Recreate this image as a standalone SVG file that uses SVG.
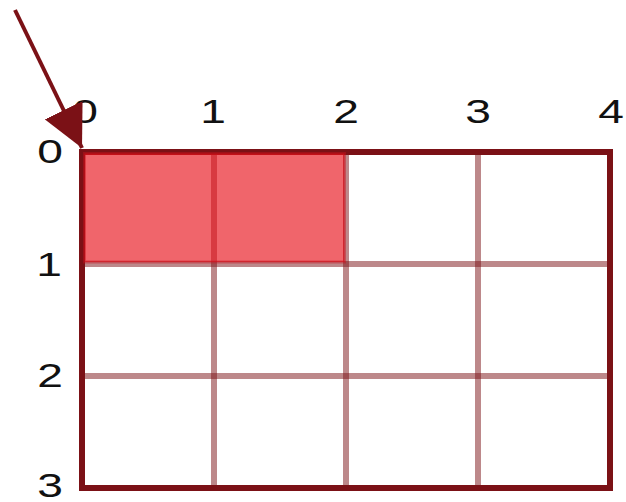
<svg xmlns="http://www.w3.org/2000/svg" width="626" height="502" viewBox="0 0 626 502">
  <style>
    .grid { stroke: #7b1116; stroke-opacity: 0.5; stroke-width: 6; fill: none; }
    .border { stroke: #7b1116; stroke-width: 6; fill: none; }
    .hl { fill: #e80e18; fill-opacity: 0.64; stroke: #c8101a; stroke-opacity: 0.45; stroke-width: 3; }
    .lbl { font-family: "Liberation Sans", Arial, sans-serif; font-size: 33px; fill: #111; text-anchor: middle; }
    .arrow { stroke: #7b1116; stroke-width: 4; fill: none; }
  </style>
  <defs>
    <marker id="ah" viewBox="0 -21 42 42" refX="42" refY="0" markerWidth="42" markerHeight="42" markerUnits="userSpaceOnUse" orient="auto">
      <path d="M0,-21 L42,0 L0,21 z" fill="#7b1116"/>
    </marker>
  </defs>
  <g id="grid-lines">
    <line class="grid" x1="214" y1="152" x2="214" y2="488"/>
    <line class="grid" x1="346" y1="152" x2="346" y2="488"/>
    <line class="grid" x1="478" y1="152" x2="478" y2="488"/>
    <line class="grid" x1="82" y1="264" x2="610" y2="264"/>
    <line class="grid" x1="82" y1="376" x2="610" y2="376"/>
  </g>
  <g id="border">
    <rect class="border" x="82" y="152" width="528" height="336"/>
  </g>
  <g id="highlight">
    <rect class="hl" x="84.5" y="153.5" width="260" height="108.5"/>
  </g>
  <g id="col-labels">
    <text class="lbl" transform="translate(85,123) scale(1.4,1)">0</text>
    <text class="lbl" transform="translate(213,123) scale(1.4,1)">1</text>
    <text class="lbl" transform="translate(346,123) scale(1.4,1)">2</text>
    <text class="lbl" transform="translate(478,123) scale(1.4,1)">3</text>
    <text class="lbl" transform="translate(611,123) scale(1.4,1)">4</text>
  </g>
  <g id="row-labels">
    <text class="lbl" transform="translate(50,163) scale(1.4,1)">0</text>
    <text class="lbl" transform="translate(49,276) scale(1.4,1)">1</text>
    <text class="lbl" transform="translate(50,387) scale(1.4,1)">2</text>
    <text class="lbl" transform="translate(50,497) scale(1.4,1)">3</text>
  </g>
  <g id="connectors">
    <line class="arrow" x1="15" y1="10" x2="82" y2="148" marker-end="url(#ah)"/>
  </g>
</svg>
